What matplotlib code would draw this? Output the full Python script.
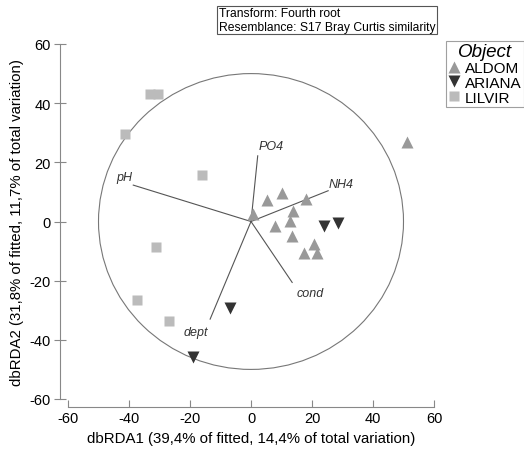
import matplotlib
matplotlib.use("Agg")
import matplotlib.pyplot as plt
from matplotlib.lines import Line2D
from matplotlib.patches import Circle
import numpy as np

plt.rcParams["font.family"] = ["Liberation Sans", "DejaVu Sans"]
plt.rcParams["axes.unicode_minus"] = False

# sample scores
aldom_x = [51.2, 0.8, 5.3, 10.3, 18.0, 13.9, 12.8, 8.0, 13.3, 20.8, 17.4, 21.7]
aldom_y = [27.0, 2.5, 7.3, 9.6, 7.7, 3.4, 0.2, -1.6, -4.8, -7.7, -10.5, -10.7]
ariana_x = [23.9, 28.6, -6.8, -19.1]
ariana_y = [-1.5, -0.6, -29.4, -45.9]
lilvir_x = [-33.0, -30.4, -41.2, -16.2, -31.1, -37.5, -27.0]
lilvir_y = [43.0, 43.0, 29.7, 15.8, -8.7, -26.5, -33.7]

# environmental vectors
vec_names = ["PO4", "NH4", "pH", "cond", "dept"]
vec_x = [2.2, 25.3, -38.6, 13.5, -13.4]
vec_y = [22.2, 10.4, 12.3, -20.6, -33.0]
lab_x = [6.5, 29.5, -41.5, 19.5, -18.0]
lab_y = [25.5, 12.8, 15.0, -24.3, -37.2]

circle_r = 50
xticks = [-60, -40, -20, 0, 20, 40, 60]
yticks = [-60, -40, -20, 0, 20, 40, 60]

fig = plt.figure(figsize=(5.24, 4.52), dpi=100)
ax = fig.add_axes([68 / 524, 52 / 452, 366 / 524, 355 / 452])
ax.set_xlim(-60, 60)
ax.set_ylim(-60, 60)

ax.add_patch(Circle((0, 0), circle_r, fill=False, ec="#777777", lw=0.8))

for name, vx, vy, lx, ly in zip(vec_names, vec_x, vec_y, lab_x, lab_y):
    ax.plot([0, vx], [0, vy], color="#555555", lw=0.8)
    ax.text(lx, ly, name, style="italic", fontsize=9, color="#333333",
            ha="center", va="center")

ax.plot(aldom_x, aldom_y, "^", color="#999999", ms=9, ls="none", mec="none")
ax.plot(ariana_x, ariana_y, "v", color="#333333", ms=9, ls="none", mec="none")
ax.plot(lilvir_x, lilvir_y, "s", color="#bbbbbb", ms=7.5, ls="none", mec="none")

for side in ("top", "right"):
    ax.spines[side].set_visible(False)
for side in ("left", "bottom"):
    ax.spines[side].set_position(("outward", 6))
    ax.spines[side].set_color("#888888")
    ax.spines[side].set_linewidth(0.8)

ax.set_xticks(xticks)
ax.set_yticks(yticks)
ax.tick_params(axis="x", direction="in", length=5, color="#888888", labelsize=10.5, pad=3)
ax.tick_params(axis="y", direction="inout", length=9, color="#888888", labelsize=10.5, pad=2)
ax.set_xlabel("dbRDA1 (39,4% of fitted, 14,4% of total variation)", fontsize=10.8, labelpad=4)
ax.set_ylabel("dbRDA2 (31,8% of fitted, 11,7% of total variation)", fontsize=10.8, labelpad=4)

fig.text(219 / 524, 1 - 21 / 452,
         "Transform: Fourth root\nResemblance: S17 Bray Curtis similarity",
         fontsize=8.7, va="center", ha="left", linespacing=1.15,
         bbox=dict(boxstyle="square,pad=0.15", fc="white", ec="#555555", lw=0.8))

handles = [
    Line2D([], [], marker="^", color="#999999", ls="none", ms=9, mec="none"),
    Line2D([], [], marker="v", color="#333333", ls="none", ms=9, mec="none"),
    Line2D([], [], marker="s", color="#bbbbbb", ls="none", ms=7.5, mec="none"),
]
leg = fig.legend(handles, ["ALDOM", "ARIANA", "LILVIR"], title="Object",
                 loc="upper left", bbox_to_anchor=(446 / 524, 1 - 42 / 452),
                 fontsize=11, title_fontsize=13.5, frameon=True, fancybox=False,
                 edgecolor="#888888", handlelength=0.8, handletextpad=0.3,
                 borderpad=0.15, labelspacing=0.05, borderaxespad=0)
leg.get_title().set_style("italic")
leg.get_frame().set_linewidth(0.8)

fig.savefig("out.png", dpi=100)
